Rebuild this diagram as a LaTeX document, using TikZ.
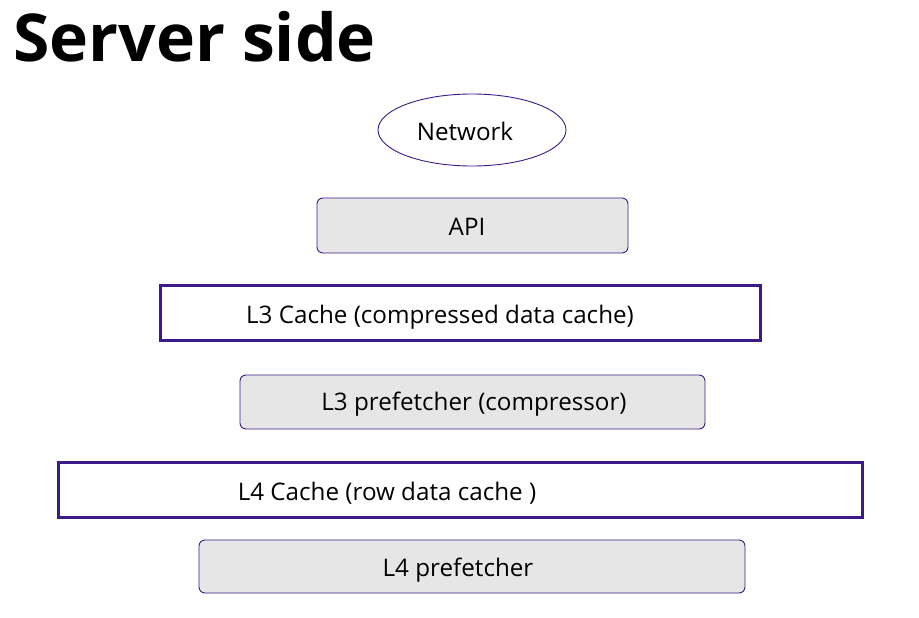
\documentclass[tikz,border=0pt]{standalone}
\usepackage{fontspec}
\setmainfont{Open Sans}
\usetikzlibrary{shapes.geometric}
\definecolor{edge}{HTML}{3C1A87}
\definecolor{boxfill}{HTML}{E6E6E6}
\tikzset{
  px/.style={x=1pt,y=-1pt},
  greybox/.style={draw=edge, line width=0.9pt, fill=boxfill, rounded corners=6pt, inner sep=0pt},
  cachebox/.style={draw=edge, line width=3pt, fill=white, inner sep=0pt},
  lbl/.style={font=\fontsize{24.2}{28}\selectfont, inner sep=0pt, anchor=base},
}
\begin{document}
\begin{tikzpicture}[px]
\useasboundingbox (0,0) rectangle (919,618);
\node[anchor=base west, inner sep=0pt, font=\bfseries\fontsize{66}{70}\selectfont] (title) at (13,62) {Server side};
\node[ellipse, draw=edge, line width=0.9pt, minimum width=188pt, minimum height=72pt, inner sep=0pt] (net) at (472,130) {};
\node[lbl] (nettext) at (465,140) {Network};
\node[greybox, minimum width=311pt, minimum height=55pt] (api) at (472.5,225.5) {};
\node[lbl] (apitext) at (467,235) {API};
\node[cachebox, minimum width=600pt, minimum height=55pt] (l3c) at (460,312.5) {};
\node[lbl] (l3ctext) at (440,323) {L3 Cache (compressed data cache)};
\node[greybox, minimum width=465pt, minimum height=54pt] (l3p) at (472.5,402) {};
\node[lbl] (l3ptext) at (474,410) {L3 prefetcher (compressor)};
\node[cachebox, minimum width=804pt, minimum height=55pt] (l4c) at (460,489.5) {};
\node[lbl] (l4ctext) at (387,500) {L4 Cache (row data cache )};
\node[greybox, minimum width=546pt, minimum height=53pt] (l4p) at (472,566.5) {};
\node[lbl] (l4ptext) at (458,576) {L4 prefetcher};
\end{tikzpicture}
\end{document}
